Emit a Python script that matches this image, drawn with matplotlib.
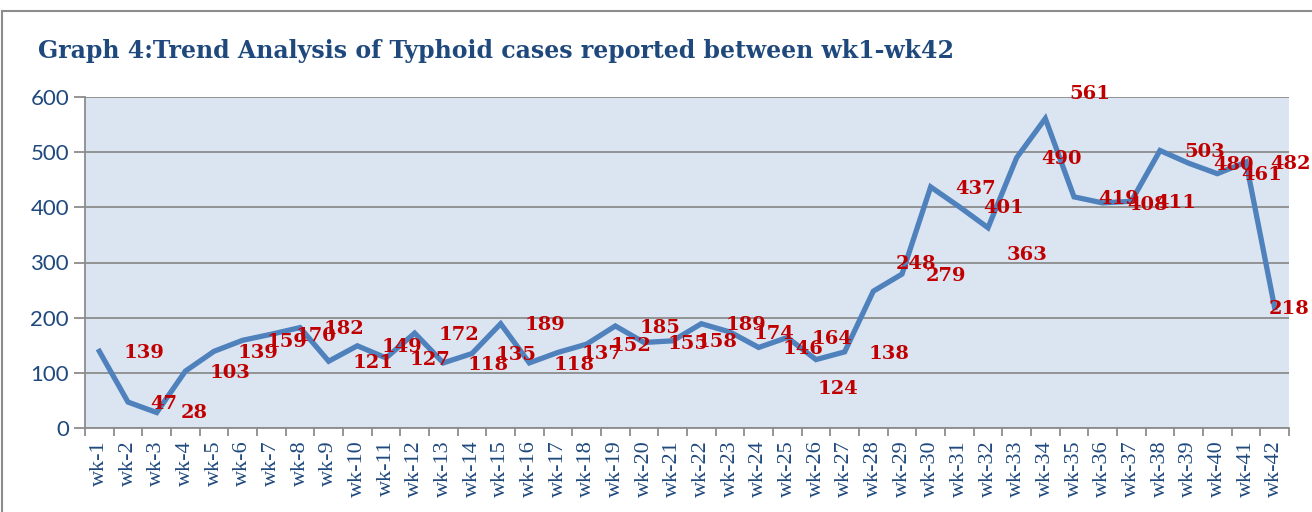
import matplotlib.pyplot as plt
import matplotlib.patches as patches
import numpy as np

# データ
weeks = ["wk-%d" % i for i in range(1, 43)]
cases = [139, 47, 28, 103, 139, 159, 170, 182, 121, 149,
         127, 172, 118, 135, 189, 118, 137, 152, 185, 155,
         158, 189, 174, 146, 164, 124, 138, 248, 279, 437,
         401, 363, 490, 561, 419, 408, 411, 503, 480, 461,
         482, 218]
title = "Graph 4:Trend Analysis of Typhoid cases reported between wk1-wk42"

# ラベルの位置ずれ（元の図のとおり、点から右にずれている）
label_dx = 1.55
label_dy = -3
label_shift = {1: (1.26, -4), 2: (1.3, -1), 25: (0.76, -53), 27: (1.5, 49),
               31: (1.36, -49), 33: (1.55, 44), 41: (0.5, -2)}

navy = "#1F497D"
red = "#C00000"

fig = plt.figure(figsize=(13.12, 5.12), dpi=100)
ax = fig.add_axes([85 / 1312, 84 / 512, 1204 / 1312, 331 / 512])
ax.set_facecolor("#DBE5F1")

x = np.arange(len(weeks))
ax.plot(x, cases, color="#4F81BD", lw=3.8, solid_joinstyle="miter", zorder=3)

# データラベル
for i, v in enumerate(cases):
    dx, dy = label_shift.get(i, (label_dx, label_dy))
    ax.text(i + dx, v + dy, str(v), color=red, fontsize=14, fontweight="bold",
            family="DejaVu Serif", ha="center", va="center", zorder=4)

ax.set_xlim(-0.5, len(weeks) - 0.5)
ax.set_ylim(0, 600)
ax.set_yticks(range(0, 601, 100))
ax.yaxis.grid(True, color="#8C8C8C", lw=1.3)
ax.set_axisbelow(True)

ax.set_xticks(x)
ax.set_xticklabels(weeks, rotation=90, family="Liberation Serif", fontsize=16, color=navy)
ax.set_xticks(np.arange(len(weeks) + 1) - 0.5, minor=True)
ax.tick_params(axis="x", which="major", length=0, pad=9)
ax.tick_params(axis="x", which="minor", length=6, width=1.3, color="#8C8C8C")
ax.tick_params(axis="y", length=8, width=1.3, color="#8C8C8C", labelsize=16, labelcolor=navy)
for lab in ax.get_yticklabels():
    lab.set_family("Lato")

for s in ["top", "right"]:
    ax.spines[s].set_visible(False)
for s in ["left", "bottom"]:
    ax.spines[s].set_color("#8C8C8C")
    ax.spines[s].set_linewidth(1.3)

# タイトルと外枠
fig.text(38 / 1312, 1 - 51 / 512, title, family="DejaVu Serif", fontsize=17,
         fontweight="bold", color=navy, ha="left", va="center")
frame = patches.Rectangle((2 / 1312, -0.2), 1.2, 1.2 - 10.5 / 512, transform=fig.transFigure,
                          fill=False, edgecolor="#8C8C8C", lw=1.5)
fig.patches.append(frame)

plt.savefig("out.png", dpi=100)
plt.close()
